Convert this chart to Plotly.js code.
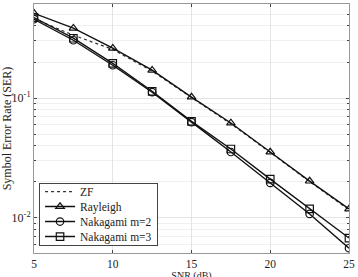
<!DOCTYPE html>
<html><head><meta charset="utf-8">
<script src="https://cdn.plot.ly/plotly-3.0.1.min.js"></script>
<style>html,body{margin:0;padding:0;background:#fff}#c{width:358px;height:277px}</style>
</head><body><div id="c"></div>
<script>
const snr = [5, 7.5, 10, 12.5, 15, 17.5, 20, 22.5, 25];
const zf = [0.46, 0.335, 0.255, 0.168, 0.101, 0.061, 0.0352, 0.0201, 0.0117];
const rayleigh = [0.51, 0.383, 0.261, 0.171, 0.102, 0.062, 0.0355, 0.0203, 0.0119];
const nak2 = [0.455, 0.304, 0.188, 0.112, 0.063, 0.0355, 0.0196, 0.0108, 0.0056];
const nak3 = [0.47, 0.316, 0.195, 0.114, 0.064, 0.0376, 0.0211, 0.0119, 0.0068];
const yTickVals = [0.01, 0.1];
const yTickText = ['10<sup>-2</sup>', '10<sup>-1</sup>'];
const yMinor = [0.006,0.007,0.008,0.009,0.02,0.03,0.04,0.05,0.06,0.07,0.08,0.09,0.2,0.3,0.4,0.5,0.6];
const xTicks = [5, 10, 15, 20, 25];

const fam = 'Liberation Serif, Times New Roman, serif';
const mk = (sym) => ({symbol: sym, size: 7.5, color: '#111', line: {color: '#111', width: 1.2}});
const traces = [
  {x: snr, y: zf, name: 'ZF', mode: 'lines', line: {color: '#333', width: 1.2, dash: 'dot'}},
  {x: snr, y: rayleigh, name: 'Rayleigh', mode: 'lines+markers', line: {color: '#111', width: 1.4}, marker: mk('triangle-up-open')},
  {x: snr, y: nak2, name: 'Nakagami m=2', mode: 'lines+markers', line: {color: '#111', width: 1.4}, marker: mk('circle-open')},
  {x: snr, y: nak3, name: 'Nakagami m=3', mode: 'lines+markers', line: {color: '#111', width: 1.4}, marker: mk('square-open')}
];
const tf = {family: fam, size: 12, color: '#222'};
const layout = {
  width: 358, height: 277,
  margin: {l: 34, r: 9, t: 4, b: 24},
  paper_bgcolor: '#fff', plot_bgcolor: '#fff',
  font: tf,
  showlegend: true,
  legend: {x: 0.016, y: 0.03, xanchor: 'left', yanchor: 'bottom', bgcolor: '#fff',
           bordercolor: '#444', borderwidth: 1, font: {family: fam, size: 11.5, color: '#222'},
           tracegroupgap: 0, itemwidth: 30},
  xaxis: {range: [5, 25], tickmode: 'array', tickvals: xTicks, ticks: 'inside', ticklen: 3,
          showgrid: true, gridcolor: '#e4e4e4', zeroline: false, showline: true, linecolor: '#999',
          mirror: 'ticks', tickfont: {family: fam, size: 11.5, color: '#222'}, automargin: false,
          title: {text: 'SNR (dB)', font: {family: fam, size: 10, color: '#222'}, standoff: 0}},
  yaxis: {type: 'log', range: [Math.log10(0.0051), Math.log10(0.61)], tickmode: 'array',
          tickvals: yTickVals, ticktext: yTickText, ticks: 'inside', ticklen: 3,
          showgrid: true, gridcolor: '#e4e4e4', zeroline: false, showline: true, linecolor: '#999',
          mirror: 'ticks', tickfont: tf, automargin: false,
          minor: {tickmode: 'array', tickvals: yMinor, ticks: 'inside', ticklen: 2, showgrid: true, gridcolor: '#f0f0f0'},
          title: {text: 'Symbol Error Rate (SER)', font: tf, standoff: 2}}
};
Plotly.newPlot('c', traces, layout, {displayModeBar: false, staticPlot: true}).then(function(gd){
  // tighten legend row spacing to match the reference
  const items = gd.querySelectorAll('.legend .traces');
  const step = 15, top = 9;
  items.forEach(function(g, i){
    const t = g.getAttribute('transform') || '';
    const m = t.match(/translate\(([-\d.]+)[ ,]*([-\d.]+)?\)/);
    const x = m ? parseFloat(m[1]) : 0;
    g.setAttribute('transform', 'translate(' + x + ',' + (top + i * step) + ')');
  });
  const leg = gd.querySelector('.legend');
  const bg = gd.querySelector('.legend .bg');
  if (leg && bg) {
    const oldH = parseFloat(bg.getAttribute('height'));
    const newH = top + (items.length - 1) * step + 8;
    bg.setAttribute('height', newH);
    const lt = leg.getAttribute('transform');
    const lm = lt.match(/translate\(([-\d.]+)[ ,]*([-\d.]+)?\)/);
    if (lm) leg.setAttribute('transform', 'translate(' + lm[1] + ',' + (parseFloat(lm[2]) + (oldH - newH)) + ')');
  }
  // place the x-axis title just below the tick labels
  const xt = gd.querySelector('.g-xtitle text');
  const tick = gd.querySelector('.xtick text');
  if (xt && tick) {
    const tb = tick.getBoundingClientRect();
    const bb = xt.getBoundingClientRect();
    const y = parseFloat(xt.getAttribute('y'));
    xt.setAttribute('y', y + (tb.bottom + 0.5 - bb.top));
  }
});
</script></body></html>
